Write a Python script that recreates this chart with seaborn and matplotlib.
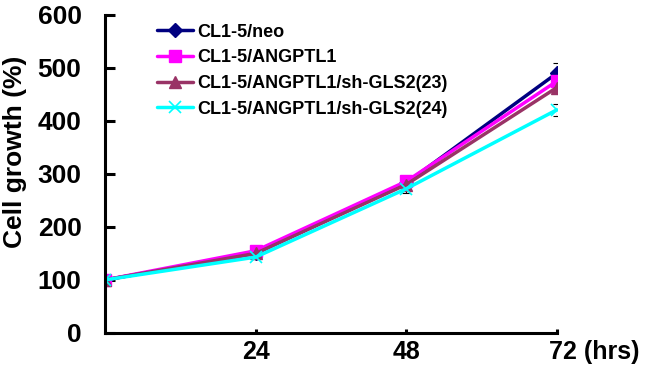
import matplotlib
matplotlib.use("Agg")
import matplotlib.pyplot as plt
import seaborn as sns
import pandas as pd
from matplotlib.transforms import ScaledTranslation

hours = [0, 24, 48, 72]
series_names = ["CL1-5/neo", "CL1-5/ANGPTL1", "CL1-5/ANGPTL1/sh-GLS2(23)", "CL1-5/ANGPTL1/sh-GLS2(24)"]
neo = [100, 150, 283, 490]
angptl1 = [100, 155, 286, 475]
sh23 = [100, 150, 280, 463]
sh24 = [100, 143, 272, 421]
err_neo = [0, 3, 5, 20]
err_angptl1 = [0, 3, 5, 8]
err_sh23 = [0, 3, 5, 8]
err_sh24 = [0, 3, 8, 11]
xtick_labels = ["24", "48", "72 (hrs)"]

colors = ["#000080", "#FF00FF", "#993366", "#00FFFF"]
markers = ["D", "s", "^", "x"]
msizes = [7, 9, 9, 9]

sns.set_theme(style="white")
plt.rcParams["font.family"] = ["Liberation Sans", "DejaVu Sans"]

fig = plt.figure(figsize=(6.49, 3.65), dpi=100)
ax = fig.add_axes([0.162, 0.088, 0.696, 0.871])

for name, vals, errs, c, m, ms in zip(series_names, [neo, angptl1, sh23, sh24],
                                       [err_neo, err_angptl1, err_sh23, err_sh24],
                                       colors, markers, msizes):
    ax.errorbar(hours, vals, yerr=errs, fmt="none", ecolor="black", elinewidth=0.8,
                capsize=3, capthick=0.8, zorder=1)
    d = pd.DataFrame({"hours": hours, "growth": vals})
    sns.lineplot(data=d, x="hours", y="growth", color=c, marker=m, markersize=ms,
                 markeredgecolor=c, markeredgewidth=1 if m != "x" else 1.2,
                 linewidth=2.5, label=name, ax=ax, zorder=2)

ax.set_xlim(0, 72)
ax.set_ylim(0, 600)
ax.set_yticks([0, 100, 200, 300, 400, 500, 600])
ax.set_xticks([24, 48, 72])
ax.set_xticklabels(xtick_labels)
ax.set_xlabel("")
ax.set_ylabel("Cell growth (%)", fontsize=19, fontweight="bold", color="black")
ax.yaxis.set_label_coords(-0.173, 0.571)

for s in ["top", "right"]:
    ax.spines[s].set_visible(False)
for s in ["left", "bottom"]:
    ax.spines[s].set_color("black")
    ax.spines[s].set_linewidth(2.2)

ax.tick_params(axis="y", direction="in", length=7, width=2.2, color="black",
               left=True, labelsize=19, pad=17)
ax.tick_params(axis="x", direction="in", length=3, width=2.2, color="black",
               bottom=True, labelsize=18, pad=5)
for lab in ax.get_xticklabels() + ax.get_yticklabels():
    lab.set_fontweight("bold")
    lab.set_color("black")

handles, labels = ax.get_legend_handles_labels()
leg = ax.legend(handles, labels, loc="upper left", bbox_to_anchor=(0.096, 1.0),
                frameon=False, fontsize=13, handlelength=2.0, handletextpad=0.22,
                labelspacing=0.48, borderaxespad=0.08)
for t in leg.get_texts():
    t.set_fontweight("bold")
    t.set_color("black")

fig.canvas.draw()
last = ax.get_xticklabels()[-1]
last.set_horizontalalignment("left")
last.set_transform(last.get_transform() + ScaledTranslation(-0.08, 0, fig.dpi_scale_trans))

fig.savefig("out.png", dpi=100)
